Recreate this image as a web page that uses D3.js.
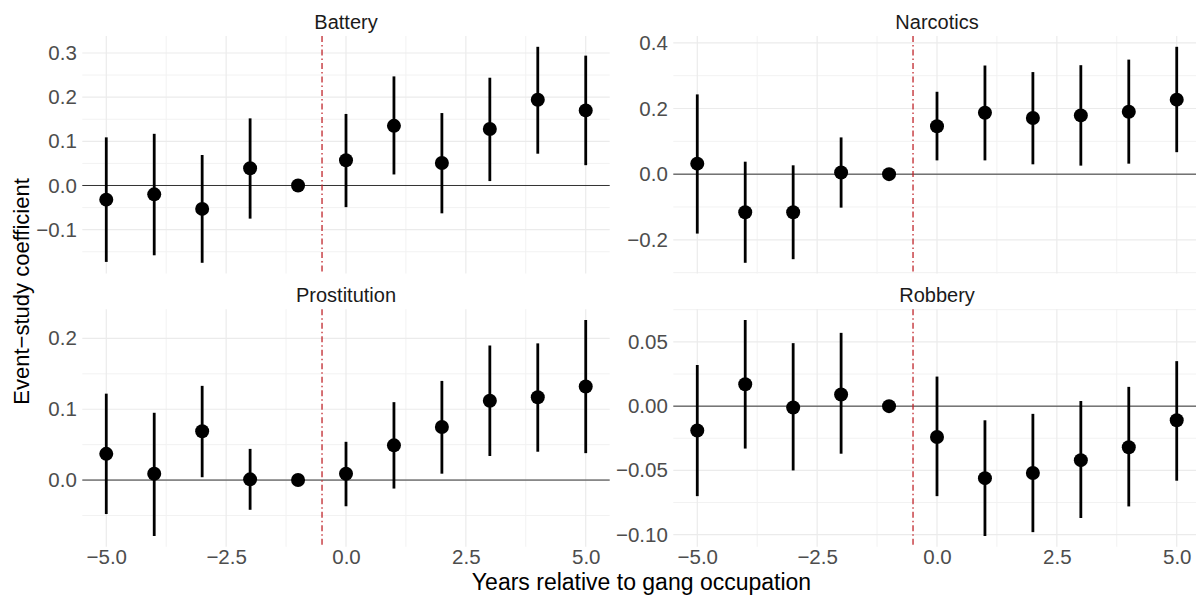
<!DOCTYPE html>
<html lang="en">
<head>
<meta charset="utf-8">
<title>Event-study coefficients</title>
<style>
    body { margin: 0; background: #fff; }
    svg { display: block; font-family: "Liberation Sans", Arial, sans-serif; }
    .grid-major { stroke: #EBEBEB; stroke-width: 1.2; }
    .grid-minor { stroke: #F2F2F2; stroke-width: 1; }
    .axis text { fill: #4D4D4D; font-size: 20.5px; }
    .strip { fill: #1A1A1A; font-size: 20px; }
    .title { fill: #000; font-size: 22px; }
</style>
</head>
<body>
<script src="https://cdn.jsdelivr.net/npm/d3@7"></script>
<script>
// years relative to occupation
var years = [-5, -4, -3, -2, -1, 0, 1, 2, 3, 4, 5];
var crimes = ["Battery", "Narcotics", "Prostitution", "Robbery"];

// point estimates and 95% bounds
var batteryEst = [-0.032, -0.020, -0.053, 0.039, 0, 0.057, 0.135, 0.051, 0.128, 0.194, 0.170];
var batteryLo  = [-0.173, -0.158, -0.175, -0.075, 0, -0.049, 0.025, -0.063, 0.010, 0.072, 0.046];
var batteryHi  = [0.109, 0.117, 0.069, 0.152, 0, 0.162, 0.247, 0.164, 0.244, 0.314, 0.294];

var narcoticsEst = [0.032, -0.116, -0.116, 0.005, 0, 0.146, 0.187, 0.171, 0.179, 0.190, 0.227];
var narcoticsLo  = [-0.181, -0.270, -0.259, -0.102, 0, 0.042, 0.042, 0.030, 0.026, 0.032, 0.067];
var narcoticsHi  = [0.243, 0.038, 0.027, 0.112, 0, 0.251, 0.331, 0.311, 0.332, 0.349, 0.388];

var prostitutionEst = [0.037, 0.009, 0.069, 0.001, 0, 0.009, 0.049, 0.075, 0.112, 0.117, 0.132];
var prostitutionLo  = [-0.048, -0.079, 0.004, -0.042, 0, -0.037, -0.012, 0.009, 0.034, 0.040, 0.038];
var prostitutionHi  = [0.122, 0.095, 0.133, 0.044, 0, 0.054, 0.110, 0.140, 0.190, 0.193, 0.226];

var robberyEst = [-0.019, 0.017, -0.001, 0.009, 0, -0.024, -0.056, -0.052, -0.042, -0.032, -0.011];
var robberyLo  = [-0.070, -0.033, -0.050, -0.037, 0, -0.070, -0.101, -0.098, -0.087, -0.078, -0.058];
var robberyHi  = [0.032, 0.067, 0.049, 0.057, 0, 0.023, -0.011, -0.006, 0.004, 0.015, 0.035];

// tick labels
var xTicks = [-5, -2.5, 0, 2.5, 5];
var xTickLabels = ["\u22125.0", "\u22122.5", "0.0", "2.5", "5.0"];
var batteryTicks = [-0.1, 0, 0.1, 0.2, 0.3];
var batteryTickLabels = ["\u22120.1", "0.0", "0.1", "0.2", "0.3"];
var narcoticsTicks = [-0.2, 0, 0.2, 0.4];
var narcoticsTickLabels = ["\u22120.2", "0.0", "0.2", "0.4"];
var prostitutionTicks = [0, 0.1, 0.2];
var prostitutionTickLabels = ["0.0", "0.1", "0.2"];
var robberyTicks = [-0.10, -0.05, 0, 0.05];
var robberyTickLabels = ["\u22120.10", "\u22120.05", "0.00", "0.05"];

var eventLine = -0.5;

var series = [
    { name: crimes[0], est: batteryEst, lo: batteryLo, hi: batteryHi, ticks: batteryTicks, labels: batteryTickLabels },
    { name: crimes[1], est: narcoticsEst, lo: narcoticsLo, hi: narcoticsHi, ticks: narcoticsTicks, labels: narcoticsTickLabels },
    { name: crimes[2], est: prostitutionEst, lo: prostitutionLo, hi: prostitutionHi, ticks: prostitutionTicks, labels: prostitutionTickLabels },
    { name: crimes[3], est: robberyEst, lo: robberyLo, hi: robberyHi, ticks: robberyTicks, labels: robberyTickLabels }
];

var W = 1196, H = 600;
var panelW = 527.4, panelH = 237.6;
var colX = [82.3, 673.3], rowY = [36, 309.2];

var svg = d3.select("body").append("svg")
    .attr("width", W)
    .attr("height", H);

// minor gridlines sit halfway between major ticks
function minors(ticks, domain) {
    var step = ticks[1] - ticks[0], out = [];
    for (var v = ticks[0] - step / 2; v <= ticks[ticks.length - 1] + step; v += step) {
        if (v >= domain[0] && v <= domain[1]) out.push(v);
    }
    return out;
}

series.forEach(function(s, i) {
    var col = i % 2, row = Math.floor(i / 2);
    var g = svg.append("g")
        .attr("transform", "translate(" + colX[col] + "," + rowY[row] + ")");

    var x = d3.scaleLinear().domain([-5.5, 5.5]).range([0, panelW]);
    var ext = d3.extent(s.lo.concat(s.hi, s.est));
    var pad = (ext[1] - ext[0]) * 0.05;
    var y = d3.scaleLinear().domain([ext[0] - pad, ext[1] + pad]).range([panelH, 0]);

    // grid
    g.selectAll(".ymin").data(minors(s.ticks, y.domain())).enter().append("line")
        .attr("class", "grid-minor")
        .attr("x1", 0).attr("x2", panelW)
        .attr("y1", function(d) { return y(d); }).attr("y2", function(d) { return y(d); });
    g.selectAll(".xmin").data(minors(xTicks, x.domain())).enter().append("line")
        .attr("class", "grid-minor")
        .attr("y1", 0).attr("y2", panelH)
        .attr("x1", function(d) { return x(d); }).attr("x2", function(d) { return x(d); });
    g.selectAll(".ymaj").data(s.ticks).enter().append("line")
        .attr("class", "grid-major")
        .attr("x1", 0).attr("x2", panelW)
        .attr("y1", function(d) { return y(d); }).attr("y2", function(d) { return y(d); });
    g.selectAll(".xmaj").data(xTicks).enter().append("line")
        .attr("class", "grid-major")
        .attr("y1", 0).attr("y2", panelH)
        .attr("x1", function(d) { return x(d); }).attr("x2", function(d) { return x(d); });

    // axes
    var yAxis = d3.axisLeft(y).tickValues(s.ticks)
        .tickFormat(function(d, j) { return s.labels[j]; })
        .tickSize(0).tickPadding(5.5);
    g.append("g").attr("class", "axis").call(yAxis)
        .call(function(a) { a.select(".domain").remove(); });

    if (row === 1) {
        var xAxis = d3.axisBottom(x).tickValues(xTicks)
            .tickFormat(function(d, j) { return xTickLabels[j]; })
            .tickSize(0).tickPadding(3);
        g.append("g").attr("class", "axis")
            .attr("transform", "translate(0," + panelH + ")")
            .call(xAxis)
            .call(function(a) { a.select(".domain").remove(); });
    }

    // zero line
    g.append("line")
        .attr("x1", 0).attr("x2", panelW)
        .attr("y1", y(0)).attr("y2", y(0))
        .attr("stroke", "#333").attr("stroke-width", 1);

    // treatment line
    g.append("line")
        .attr("x1", x(eventLine)).attr("x2", x(eventLine))
        .attr("y1", 0).attr("y2", panelH)
        .attr("stroke", "#C0262B").attr("stroke-width", 1.3)
        .attr("stroke-dasharray", "6,3,1.5,3");

    // error bars
    g.selectAll(".bar").data(years).enter().append("line")
        .attr("x1", function(d) { return x(d); }).attr("x2", function(d) { return x(d); })
        .attr("y1", function(d, j) { return y(s.lo[j]); })
        .attr("y2", function(d, j) { return y(s.hi[j]); })
        .attr("stroke", "#000").attr("stroke-width", 2.8);

    g.selectAll(".pt").data(years).enter().append("circle")
        .attr("cx", function(d) { return x(d); })
        .attr("cy", function(d, j) { return y(s.est[j]); })
        .attr("r", 7)
        .attr("fill", "#000");

    // strip label
    g.append("text")
        .attr("class", "strip")
        .attr("x", panelW / 2)
        .attr("y", -7.5)
        .attr("text-anchor", "middle")
        .text(s.name);
});

svg.append("text")
    .attr("class", "title")
    .attr("x", (colX[0] + colX[1] + panelW) / 2)
    .attr("y", 590)
    .attr("text-anchor", "middle")
    .style("font-size", "23px")
    .text("Years relative to gang occupation");

svg.append("text")
    .attr("class", "title")
    .attr("transform", "translate(29," + (rowY[0] + rowY[1] + panelH) / 2 + ") rotate(-90)")
    .attr("text-anchor", "middle")
    .text("Event\u2212study coefficient");
</script>
</body>
</html>
